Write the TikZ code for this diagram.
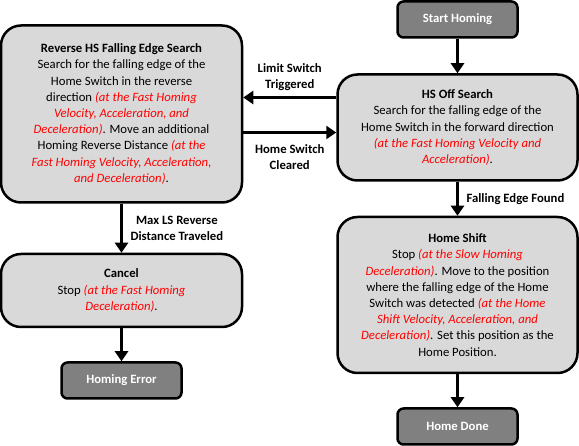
\documentclass[tikz,border=0pt]{standalone}
\usepackage{fontspec}
\setmainfont{Carlito}
\usetikzlibrary{arrows.meta}
\newcommand{\slow}[1]{\textcolor{red}{\itshape #1}}
\begin{document}
\begin{tikzpicture}[x=1pt,y=-1pt]

\def\fs{\fontsize{12.7}{16.2}\selectfont}
\tikzstyle{state} = [
	draw, line width=2.5pt, fill=black!15, rounded corners=20pt,
	align=center, inner sep=0pt, font=\fs ];
\tikzstyle{term} = [
	draw, line width=2.5pt, fill=black!50, rounded corners=6pt,
	text=white, font=\fs\bfseries,
	minimum width=120pt, minimum height=36pt ];
\tikzstyle{flow} = [line width=3.5pt, -{Triangle[length=10pt,width=13pt]}];
\tikzstyle{lbl} = [font=\fs\bfseries, align=center];
\useasboundingbox (0,0) rectangle (579,446);

\node[term] (start) at (457.5,19.5) {Start Homing};
\node[state,minimum width=240pt,minimum height=106pt] (hsoff) at (457.5,127.5)
	{\textbf{HS Off Search}\\ Search for the falling edge of the\\
	 Home Switch in the forward direction\\
	 \slow{(at the Fast Homing Velocity and}\\ \slow{Acceleration)}.};
\node[state,minimum width=241pt,minimum height=177pt] (revsearch) at (121.5,114)
	{\textbf{Reverse HS Falling Edge Search}\\ Search for the falling edge of the\\
	 Home Switch in the reverse\\ direction \slow{(at the Fast Homing}\\
	 \slow{Velocity, Acceleration, and}\\ \slow{Deceleration)}. Move an additional\\
	 Homing Reverse Distance \slow{(at the}\\ \slow{Fast Homing Velocity, Acceleration,}\\
	 \slow{and Deceleration)}.};
\node[state,minimum width=241pt,minimum height=73pt] (cancel) at (121.5,290.5)
	{\textbf{Cancel}\\ Stop \slow{(at the Fast Homing}\\ \slow{Deceleration)}.};
\node[term] (error) at (121.5,380.5) {Homing Error};
\node[state,minimum width=240pt,minimum height=156pt] (shift) at (457.5,295)
	{\textbf{Home Shift}\\ Stop \slow{(at the Slow Homing}\\
	 \slow{Deceleration)}. Move to the position\\ where the falling edge of the Home\\
	 Switch was detected \slow{(at the Home}\\ \slow{Shift Velocity, Acceleration, and}\\
	 \slow{Deceleration)}. Set this position as the\\ Home Position.};
\node[term] (done) at (457.5,426.5) {Home Done};

\draw[flow] (start) -- (hsoff);
\draw[flow] ([yshift=30pt]hsoff.west) -- ([yshift=30pt]hsoff.west -| revsearch.east)
	node[lbl,above,midway,yshift=2pt] (lstrig) {Limit Switch\\ Triggered};
\draw[flow] ([yshift=-5pt]hsoff.west -| revsearch.east) -- ([yshift=-5pt]hsoff.west)
	node[lbl,below,midway,yshift=-7pt] (hscleared) {Home Switch\\ Cleared};
\draw[flow] (hsoff) -- (shift) node[lbl,right,midway,xshift=4pt] (found) {Falling Edge Found};
\draw[flow] (shift) -- (done);
\draw[flow] (revsearch) -- (cancel)
	node[lbl,right,midway,xshift=4pt] (maxls) {Max LS Reverse\\ Distance Traveled};
\draw[flow] (cancel) -- (error);

\end{tikzpicture}
\end{document}
